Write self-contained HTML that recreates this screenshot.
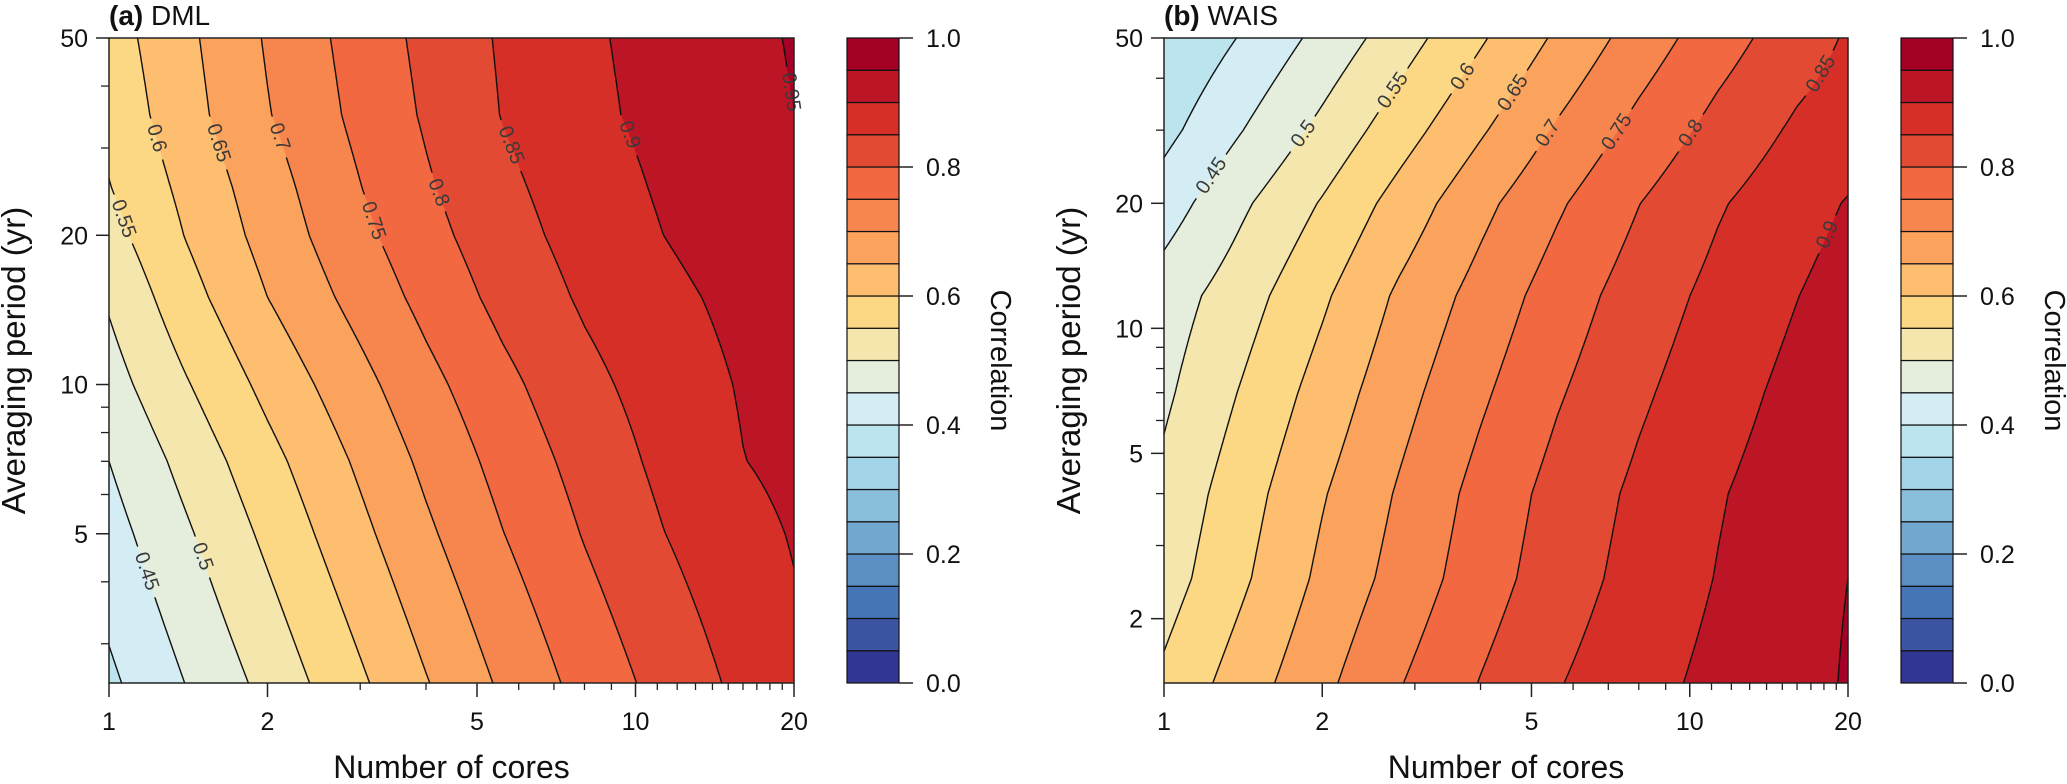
<!DOCTYPE html>
<html>
<head>
<meta charset="utf-8">
<style>
  html,body{margin:0;padding:0;}
  body{width:2067px;height:784px;position:relative;background:#ffffff;overflow:hidden;font-family:"Liberation Sans",Arial,sans-serif;}
  canvas{position:absolute;}
  svg{position:absolute;left:0;top:0;}
  text{font-family:"Liberation Sans",Arial,sans-serif;}
</style>
</head>
<body>
<canvas id="fillA" width="685" height="645" style="left:109px;top:38px"></canvas>
<canvas id="fillB" width="684" height="645" style="left:1164px;top:38px"></canvas>
<svg id="chart" width="2067" height="784" xmlns="http://www.w3.org/2000/svg">
  <g id="panelA"></g>
  <g id="panelB"></g>
</svg>
<script>
// ---------------- data ----------------
const coresGrid = [1, 1.4, 2, 2.8, 4, 5.6, 8, 11.3, 16, 20];

const periodsA = [50, 35, 25, 20, 15, 10, 7, 5, 2.5];
const corrA = [
  [.577,.639,.705,.760,.813,.856,.892,.917,.940,.953],
  [.565,.631,.697,.752,.806,.852,.888,.914,.936,.950],
  [.548,.613,.678,.738,.794,.839,.876,.906,.930,.945],
  [.532,.602,.668,.727,.783,.830,.869,.900,.924,.940],
  [.506,.581,.650,.707,.765,.815,.857,.888,.913,.927],
  [.479,.546,.614,.673,.735,.787,.836,.873,.904,.918],
  [.450,.516,.584,.646,.711,.767,.818,.862,.899,.911],
  [.430,.493,.561,.625,.691,.749,.803,.849,.886,.903],
  [.390,.451,.515,.579,.647,.708,.767,.817,.862,.890]
];

const periodsB = [50, 30, 20, 12, 7, 4, 2.5, 1.4];
const corrB = [
  [.350,.403,.465,.526,.594,.658,.722,.778,.827,.855],
  [.385,.448,.513,.577,.644,.706,.765,.816,.858,.875],
  [.425,.491,.554,.619,.686,.743,.799,.845,.881,.903],
  [.474,.527,.592,.658,.718,.773,.824,.864,.899,.920],
  [.491,.553,.620,.682,.742,.795,.842,.880,.914,.935],
  [.513,.577,.646,.705,.766,.817,.860,.896,.926,.945],
  [.527,.591,.661,.718,.777,.826,.868,.902,.932,.950],
  [.560,.623,.688,.747,.802,.847,.883,.913,.930,.955]
];

const contourLevels = [0.05,0.1,0.15,0.2,0.25,0.3,0.35,0.4,0.45,0.5,0.55,0.6,0.65,0.7,0.75,0.8,0.85,0.9,0.95];
const bandColors = ["#313695","#3b55a3","#4575b4","#5b8ec2","#72a8cf","#8abfdb","#a3d3e6","#bbe4ef","#d4edf4","#e5eedc",
                    "#f5e6ad","#fdd884","#fdbe6f","#fba35c","#f7864e","#f26841","#e34a33","#d62f27","#bb1526","#a50026"];

const labelLevelsA = [0.45,0.5,0.55,0.6,0.65,0.7,0.75,0.8,0.85,0.9,0.95];
const labelPeriodsA = [4.2,4.5,21.6,31.4,30.7,31.6,21.4,24.4,30.4,31.9,38.9];
const labelLevelsB = [0.45,0.5,0.55,0.6,0.65,0.7,0.75,0.8,0.85,0.9];
const labelPeriodsB = [23.3,29.4,37.4,40.4,36.9,29.5,29.7,29.5,41,16.8];

const xTicks = [1,2,5,10,20];
const xMinor = [3,4,6,7,8,9,11,12,13,14,15,16,17,18,19];
const yTicksA = [5,10,20,50];
const yTicksB = [2,5,10,20,50];
const yMinor = [3,4,6,7,8,9,30,40];
const cbTicks = [0,0.2,0.4,0.6,0.8,1.0];
const cbLabels = ["0.0","0.2","0.4","0.6","0.8","1.0"];

// ---------------- helpers ----------------
const NS = "http://www.w3.org/2000/svg";
function mk(tag, attrs, parent){
  const e = document.createElementNS(NS, tag);
  for (const k in attrs) e.setAttribute(k, attrs[k]);
  if (parent) parent.appendChild(e);
  return e;
}
function hexRgb(h){ return [parseInt(h.slice(1,3),16),parseInt(h.slice(3,5),16),parseInt(h.slice(5,7),16)]; }
function fmtLevel(l){ return String(Math.round(l*100)/100); }

function makePanel(cfg){
  const g = document.getElementById(cfg.gid);
  const L = Math.log10;
  const xMaxLog = L(20);
  const xScale = c => cfg.left + L(c)/xMaxLog*cfg.W;
  const yScale = p => cfg.top + (L(cfg.pmax)-L(p))/(L(cfg.pmax)-L(cfg.pmin))*cfg.H;
  const lcs = coresGrid.map(L);
  const lps = cfg.periods.map(L);
  const Z = cfg.Z;
  function field(px, py){
    let lc = (px-cfg.left)/cfg.W*xMaxLog;
    let lp = L(cfg.pmax) - (py-cfg.top)/cfg.H*(L(cfg.pmax)-L(cfg.pmin));
    lc = Math.max(lcs[0], Math.min(lcs[lcs.length-1], lc));
    lp = Math.min(lps[0], Math.max(lps[lps.length-1], lp));
    let i = 0; while (i < lcs.length-2 && lc > lcs[i+1]) i++;
    let j = 0; while (j < lps.length-2 && lp < lps[j+1]) j++;
    const tx = (lc-lcs[i])/(lcs[i+1]-lcs[i]);
    const ty = (lps[j]-lp)/(lps[j]-lps[j+1]);
    const a = Z[j][i], b = Z[j][i+1], c = Z[j+1][i+1], d = Z[j+1][i];
    return a*(1-tx)*(1-ty) + b*tx*(1-ty) + c*tx*ty + d*(1-tx)*ty;
  }

  // ---- filled bands (canvas) ----
  const cv = document.getElementById(cfg.canvasId);
  const ctx = cv.getContext("2d");
  const img = ctx.createImageData(cv.width, cv.height);
  const rgbs = bandColors.map(hexRgb);
  for (let y = 0; y < cv.height; y++){
    for (let x = 0; x < cv.width; x++){
      const v = field(cfg.left+x+0.5, cfg.top+y+0.5);
      let k = Math.floor(v*20+1e-9); k = Math.max(0, Math.min(19, k));
      const o = (y*cv.width+x)*4, col = rgbs[k];
      img.data[o]=col[0]; img.data[o+1]=col[1]; img.data[o+2]=col[2]; img.data[o+3]=255;
    }
  }
  ctx.putImageData(img, 0, 0);

  // ---- label positions ----
  const labels = [];
  cfg.labelLevels.forEach((lev, idx) => {
    const py = yScale(cfg.labelPeriods[idx]);
    let prev = field(cfg.left, py) - lev, found = null;
    for (let px = cfg.left+0.5; px <= cfg.left+cfg.W; px += 0.5){
      const cur = field(px, py) - lev;
      if ((prev < 0) !== (cur < 0)){ found = px; break; }
      prev = cur;
    }
    if (found === null) return;
    const h = 2;
    const fx = field(found+h, py) - field(found-h, py);
    const fy = field(found, py+h) - field(found, py-h);
    let tx = -fy, ty = fx;
    if (tx < 0){ tx = -tx; ty = -ty; }
    const ang = Math.atan2(ty, tx)*180/Math.PI;
    const txt = fmtLevel(lev);
    labels.push({lev, x: found, y: py, ang, txt, r: txt.length*5.6 + 5});
  });

  // ---- contour lines (marching squares) ----
  const s = 2;
  const nx = Math.ceil(cfg.W/s), ny = Math.ceil(cfg.H/s);
  const gx = [], gy = [];
  for (let i = 0; i <= nx; i++) gx.push(Math.min(cfg.left+i*s, cfg.left+cfg.W));
  for (let j = 0; j <= ny; j++) gy.push(Math.min(cfg.top+j*s, cfg.top+cfg.H));
  const V = [];
  for (let j = 0; j <= ny; j++){ const row = []; for (let i = 0; i <= nx; i++) row.push(field(gx[i], gy[j])); V.push(row); }
  const cg = mk("g", {}, g);
  
  
  contourLevels.forEach(lev => {
    const myLabels = labels.filter(l => Math.abs(l.lev-lev) < 1e-6);
    let d = "";
    for (let j = 0; j < ny; j++){
      for (let i = 0; i < nx; i++){
        const a = V[j][i], b = V[j][i+1], c = V[j+1][i+1], dd = V[j+1][i];
        const idx = (a>lev?8:0)|(b>lev?4:0)|(c>lev?2:0)|(dd>lev?1:0);
        if (idx === 0 || idx === 15) continue;
        const x0 = gx[i], x1 = gx[i+1], y0 = gy[j], y1 = gy[j+1];
        const T = () => [x0 + (lev-a)/(b-a)*(x1-x0), y0];
        const R = () => [x1, y0 + (lev-b)/(c-b)*(y1-y0)];
        const B = () => [x0 + (lev-dd)/(c-dd)*(x1-x0), y1];
        const Lf = () => [x0, y0 + (lev-a)/(dd-a)*(y1-y0)];
        let segs = [];
        switch(idx){
          case 1: case 14: segs=[[Lf(),B()]]; break;
          case 2: case 13: segs=[[B(),R()]]; break;
          case 3: case 12: segs=[[Lf(),R()]]; break;
          case 4: case 11: segs=[[T(),R()]]; break;
          case 5: segs=[[Lf(),T()],[B(),R()]]; break;
          case 6: case 9: segs=[[T(),B()]]; break;
          case 7: case 8: segs=[[Lf(),T()]]; break;
          case 10: segs=[[T(),R()],[Lf(),B()]]; break;
        }
        segs.forEach(sg => {
          const mx = (sg[0][0]+sg[1][0])/2, my = (sg[0][1]+sg[1][1])/2;
          for (const lb of myLabels){ if (Math.hypot(mx-lb.x, my-lb.y) < lb.r) return; }
          d += "M" + sg[0][0].toFixed(1) + " " + sg[0][1].toFixed(1) + "L" + sg[1][0].toFixed(1) + " " + sg[1][1].toFixed(1);
        });
      }
    }
    if (d){
      const p = mk("path", {d: d, stroke: "#111", "stroke-width": 1.4, fill: "none", "stroke-linecap": "round"}, cg);
      
      
    }
  });
  labels.forEach(lb => {
    const t = mk("text", {x: lb.x, y: lb.y, "font-size": 20, fill: "#3a3a3a", "text-anchor": "middle",
      "dominant-baseline": "central", transform: "rotate(" + lb.ang.toFixed(1) + " " + lb.x.toFixed(1) + " " + lb.y.toFixed(1) + ")"}, g);
    t.textContent = lb.txt;
    
    
  });

  // ---- frame ----
  const frame = mk("rect", {x: cfg.left, y: cfg.top, width: cfg.W, height: cfg.H, fill: "none", stroke: "#222", "stroke-width": 1.5}, g);
  
  

  // ---- x axis ----
  const bottom = cfg.top + cfg.H;
  xTicks.forEach(c => {
    const x = xScale(c);
    const tk = mk("line", {x1: x, x2: x, y1: bottom, y2: bottom+14, stroke: "#222", "stroke-width": 1.5}, g);
    
    
    const tl = mk("text", {x: x, y: bottom+47, "font-size": 25, "text-anchor": "middle", fill: "#111"}, g);
    tl.textContent = String(c);
    
    
  });
  xMinor.forEach(c => {
    const x = xScale(c);
    const tk = mk("line", {x1: x, x2: x, y1: bottom, y2: bottom+7, stroke: "#222", "stroke-width": 1.3}, g);
    
    
  });
  const xt = mk("text", {x: cfg.left+cfg.W/2, y: 778, "font-size": 32, "text-anchor": "middle", fill: "#111"}, g);
  xt.textContent = "Number of cores";
  
  

  // ---- y axis ----
  cfg.yTicks.forEach(p => {
    const y = yScale(p);
    const tk = mk("line", {x1: cfg.left-13, x2: cfg.left, y1: y, y2: y, stroke: "#222", "stroke-width": 1.5}, g);
    
    
    const tl = mk("text", {x: cfg.left-21, y: y+9, "font-size": 25, "text-anchor": "end", fill: "#111"}, g);
    tl.textContent = String(p);
    
    
  });
  yMinor.forEach(p => {
    if (p < cfg.pmin || p > cfg.pmax) return;
    const y = yScale(p);
    const tk = mk("line", {x1: cfg.left-8, x2: cfg.left, y1: y, y2: y, stroke: "#222", "stroke-width": 1.3}, g);
    
    
  });
  const yc = cfg.top + cfg.H/2, yx = cfg.left - 84;
  const yt = mk("text", {x: yx, y: yc, "font-size": 33, "text-anchor": "middle", fill: "#111",
    transform: "rotate(-90 " + yx + " " + yc + ")"}, g);
  yt.textContent = "Averaging period (yr)";
  
  

  // ---- title ----
  const tt = mk("text", {x: cfg.left, y: 25, "font-size": 28, fill: "#111"}, g);
  const tb = mk("tspan", {"font-weight": "bold"}, tt);
  tb.textContent = cfg.letter;
  const tn = mk("tspan", {}, tt);
  tn.textContent = " " + cfg.title;
  
  

  // ---- colorbar ----
  const cbx = cfg.left + cfg.W + 53, cbw = 52;
  const cbg = mk("g", {}, g);
  
  
  const cbY = v => cfg.top + (1-v)*cfg.H;
  bandColors.forEach((col, k) => {
    const y0 = cbY((k+1)/20), y1 = cbY(k/20);
    const r = mk("rect", {x: cbx, y: y0, width: cbw, height: y1-y0, fill: col, stroke: "#111", "stroke-width": 1.2}, cbg);
    
    
  });
  cbTicks.forEach((v, k) => {
    const y = cbY(v);
    const tk = mk("line", {x1: cbx+cbw, x2: cbx+cbw+14, y1: y, y2: y, stroke: "#222", "stroke-width": 1.5}, cbg);
    
    
    const tl = mk("text", {x: cbx+cbw+27, y: y+9, "font-size": 25, fill: "#111"}, cbg);
    tl.textContent = cbLabels[k];
    
    
  });
  const ccx = cbx + cbw + 92, ccy = cfg.top + cfg.H/2;
  const ct = mk("text", {x: ccx, y: ccy, "font-size": 29, "text-anchor": "middle", fill: "#111",
    transform: "rotate(90 " + ccx + " " + ccy + ")"}, cbg);
  ct.textContent = "Correlation";
  
  
}

makePanel({gid: "panelA", canvasId: "fillA", left: 109, top: 38, W: 685, H: 645, pmin: 2.5, pmax: 50,
  periods: periodsA, Z: corrA, labelLevels: labelLevelsA, labelPeriods: labelPeriodsA,
  yTicks: yTicksA, letter: "(a)", title: "DML"});
makePanel({gid: "panelB", canvasId: "fillB", left: 1164, top: 38, W: 684, H: 645, pmin: 1.4, pmax: 50,
  periods: periodsB, Z: corrB, labelLevels: labelLevelsB, labelPeriods: labelPeriodsB,
  yTicks: yTicksB, letter: "(b)", title: "WAIS"});
</script>
</body>
</html>
